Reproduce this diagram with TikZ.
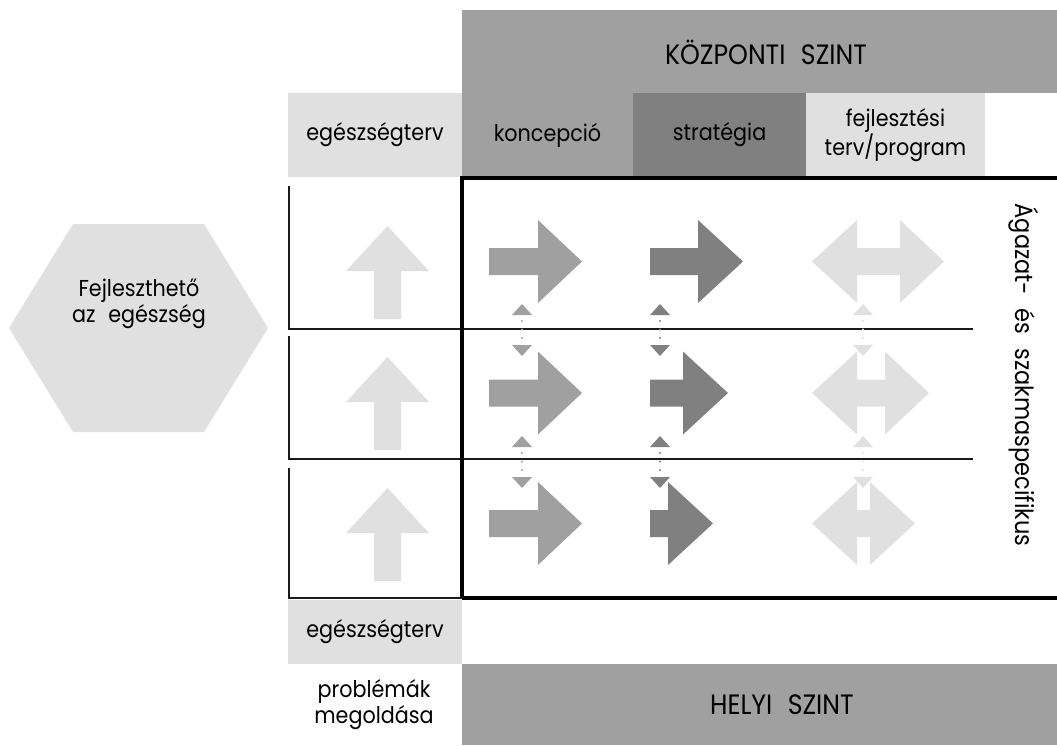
\documentclass[tikz,border=0pt]{standalone}
\usepackage{fontspec}
\setmainfont{Poppins}
\newfontfamily\labelfont{Poppins}[FakeStretch=0.9]
\usetikzlibrary{arrows.meta}

\definecolor{lightgrey}{HTML}{E0E0E0}
\definecolor{midgrey}{HTML}{A0A0A0}
\definecolor{darkgrey}{HTML}{808080}
\definecolor{rulegrey}{HTML}{1A1A1A}

% wide word gap used in the labels
\newcommand{\wsp}{\hspace{0.55em}}

% block arrow pointing right: colour, tail x, head base x, tip x, centre y
\newcommand{\rblock}[5]{%
  \fill[#1] (#2,#5-13.5) -- (#3,#5-13.5) -- (#3,#5-41.5) -- (#4,#5)
    -- (#3,#5+41.5) -- (#3,#5+13.5) -- (#2,#5+13.5) -- cycle;}

% double block arrow: colour, left tip x, left base x, right base x, right tip x, centre y
\newcommand{\dblock}[6]{%
  \fill[#1] (#2,#6) -- (#3,#6-41.5) -- (#3,#6-13.5) -- (#4,#6-13.5)
    -- (#4,#6-41.5) -- (#5,#6) -- (#4,#6+41.5) -- (#4,#6+13.5)
    -- (#3,#6+13.5) -- (#3,#6+41.5) -- cycle;}

% block arrow pointing up: colour, centre x, tip y
\newcommand{\ublock}[3]{%
  \fill[#1] (#2,#3) -- (#2+41.5,#3+45) -- (#2+13.5,#3+45) -- (#2+13.5,#3+93)
    -- (#2-13.5,#3+93) -- (#2-13.5,#3+45) -- (#2-41.5,#3+45) -- cycle;}

\begin{document}
\begin{tikzpicture}[x=1pt,y=-1pt,
  lbl/.style={font=\labelfont\fontsize{23}{26}\selectfont, align=center, text=black},
  biglbl/.style={font=\labelfont\fontsize{28}{30}\selectfont, align=center, text=black},
  sidelbl/.style={font=\labelfont\fontsize{25}{28}\selectfont, text=black},
  cell/.style={rectangle, inner sep=0pt, outer sep=0pt, lbl},
  thinrule/.style={draw=rulegrey, line width=1.8pt},
  thickrule/.style={draw=black, line width=3.2pt},
  link/.style={line width=2.2pt, line cap=round,
    dash pattern=on 0pt off 8.5pt, dash phase=2.5pt,
    arrows={Triangle[width=20pt,length=11pt,line width=0pt]-Triangle[width=20pt,length=11pt,line width=0pt]}},
]
\useasboundingbox (0,0) rectangle (1057,745);

% ---- header: central level and document types
\node[cell, fill=midgrey, minimum width=595pt, minimum height=83pt] (kozp) at (759.5,51.5) {};
\node[biglbl] (kozplbl) at (766,52) {KÖZPONTI\wsp SZINT};
\node[cell, fill=lightgrey, minimum width=174pt, minimum height=84pt] (egt1) at (375,135) {egészségterv};
\node[cell, fill=midgrey, minimum width=171pt, minimum height=84pt] (konc) at (547.5,135) {koncepció};
\node[cell, fill=darkgrey, minimum width=173pt, minimum height=84pt] (strat) at (719.5,135) {stratégia};
\node[cell, fill=lightgrey, minimum width=179pt, minimum height=84pt] (fejl) at (895.5,135) {fejlesztési\\terv/program};

% ---- footer: local level
\node[cell, fill=lightgrey, minimum width=174pt, minimum height=64pt] (egt2) at (375,632) {egészségterv};
\node[cell, fill=midgrey, minimum width=595pt, minimum height=81pt] (helyi) at (759.5,704.5) {};
\node[biglbl] (helyilbl) at (782,705) {HELYI\wsp SZINT};
\node[lbl] (prob) at (374,705) {problémák\\megoldása};

% ---- hexagon on the left
\fill[lightgrey] (73,224) -- (204,224) -- (268,328) -- (204,432) -- (73,432) -- (9,328) -- cycle;
\node[lbl] (hex) at (139,304) {Fejleszthető\\az\wsp egészség};

% ---- side label
\node[sidelbl, rotate=-90] (side) at (1024,375) {Ágazat-\wsp és\wsp szakmaspecifikus};

% ---- grid rules
\draw[thinrule] (289,186) -- (289,329) -- (973,329);
\draw[thinrule] (289,336) -- (289,459) -- (973,459);
\draw[thinrule] (289,468) -- (289,598) -- (462,598);
\draw[thickrule] (462,598) -- (462,178) -- (1057,178);
\draw[thickrule] (462,598) -- (1057,598);

% ---- upward arrows in the left column
\ublock{lightgrey}{387.5}{226}
\ublock{lightgrey}{387.5}{357}
\ublock{lightgrey}{387.5}{488}

% ---- concept column
\rblock{midgrey}{489}{538}{582}{261.5}
\rblock{midgrey}{489}{538}{582}{393}
\rblock{midgrey}{489}{538}{582}{523.5}

% ---- strategy column
\rblock{darkgrey}{650}{698}{743}{261.5}
\rblock{darkgrey}{650}{683}{728}{393}
\rblock{darkgrey}{650}{668}{713}{523.5}

% ---- programme column
\dblock{lightgrey}{812}{857}{900}{944}{261.5}
\dblock{lightgrey}{812}{857}{885}{929}{393}
\dblock{lightgrey}{812}{857}{870}{915}{523.5}

% ---- dotted links between the rows
\coordinate (k1t) at (522,304); \coordinate (k1b) at (522,356);
\coordinate (k2t) at (522,436); \coordinate (k2b) at (522,488);
\coordinate (s1t) at (660,304); \coordinate (s1b) at (660,356);
\coordinate (s2t) at (660,436); \coordinate (s2b) at (660,488);
\coordinate (f1t) at (863,304); \coordinate (f1b) at (863,356);
\coordinate (f2t) at (863,436); \coordinate (f2b) at (863,488);
\draw[link, midgrey] (k1t) -- (k1b);
\draw[link, midgrey] (k2t) -- (k2b);
\draw[link, darkgrey] (s1t) -- (s1b);
\draw[link, darkgrey] (s2t) -- (s2b);
\draw[link, lightgrey] (f1t) -- (f1b);
\draw[link, lightgrey] (f2t) -- (f2b);
\end{tikzpicture}
\end{document}
